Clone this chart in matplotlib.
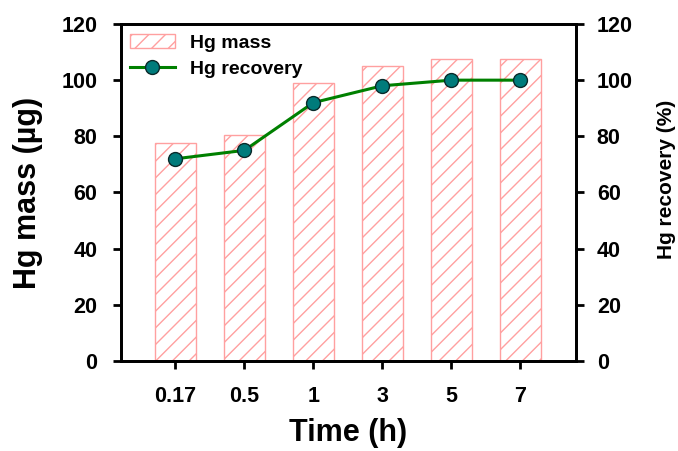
import matplotlib
matplotlib.use("Agg")
import matplotlib.pyplot as plt
import numpy as np

plt.rcParams['font.family'] = ['Liberation Sans', 'DejaVu Sans']
plt.rcParams['font.weight'] = 'bold'
plt.rcParams['hatch.linewidth'] = 1.0
plt.rcParams['hatch.color'] = '#ff9c9c'

categories = ['0.17', '0.5', '1', '3', '5', '7']
hg_mass = [77.5, 80.5, 99, 105, 107.5, 107.5]
hg_recovery = [72, 75, 92, 98, 100, 100]

fig = plt.figure(figsize=(6.78, 4.51), dpi=100)
ax = fig.add_axes([0.1785, 0.1996, 0.6711, 0.7472])
x = np.arange(len(categories))
bars = ax.bar(x, hg_mass, width=0.6, facecolor='white', edgecolor='#ffa0a0',
              hatch='//', linewidth=1.0, label='Hg mass')
ax.set_xlim(-0.79, 5.81)
ax.set_ylim(0, 120)
ax.set_yticks(range(0, 121, 20))
ax.set_xticks(x)
ax.set_xticklabels(categories)
ax.set_xlabel('Time (h)', fontsize=22, fontweight='bold')
ax.set_ylabel('Hg mass (\u00b5g)', fontsize=22, fontweight='bold')
ax.xaxis.set_label_coords(0.5, -0.2136)
ax.xaxis.label.set_va('center')
ax.yaxis.set_label_coords(-0.2055, 0.5)
ax.yaxis.label.set_va('center')

ax2 = ax.twinx()
line, = ax2.plot(x, hg_recovery, color='#008000', linewidth=2.2, marker='o',
                 markersize=10, markerfacecolor='#007b7b', markeredgecolor='#0a2a2a',
                 markeredgewidth=1.0, label='Hg recovery')
ax2.set_ylim(0, 120)
ax2.set_yticks(range(0, 121, 20))
ax2.set_ylabel('Hg recovery (%)', fontsize=15, fontweight='bold')
ax2.yaxis.set_label_coords(1.198, 0.54)
ax2.yaxis.label.set_va('center')

for a in (ax, ax2):
    for s in a.spines.values():
        s.set_linewidth(2)
    a.tick_params(axis='both', direction='out', length=6, width=2, labelsize=15.5)
ax.tick_params(axis='y', pad=11)
ax.tick_params(axis='x', pad=12)
ax2.tick_params(axis='y', pad=9)

for lbl in ax.get_xticklabels() + ax.get_yticklabels() + ax2.get_yticklabels():
    lbl.set_fontweight('bold')

ax.legend([bars, line], ['Hg mass', 'Hg recovery'], loc='upper left', frameon=False,
          fontsize=14, handlelength=2.3, borderaxespad=0.3, labelspacing=0.45,
          handletextpad=0.8, bbox_to_anchor=(-0.01, 1.01))

fig.savefig('out.png', dpi=100)
